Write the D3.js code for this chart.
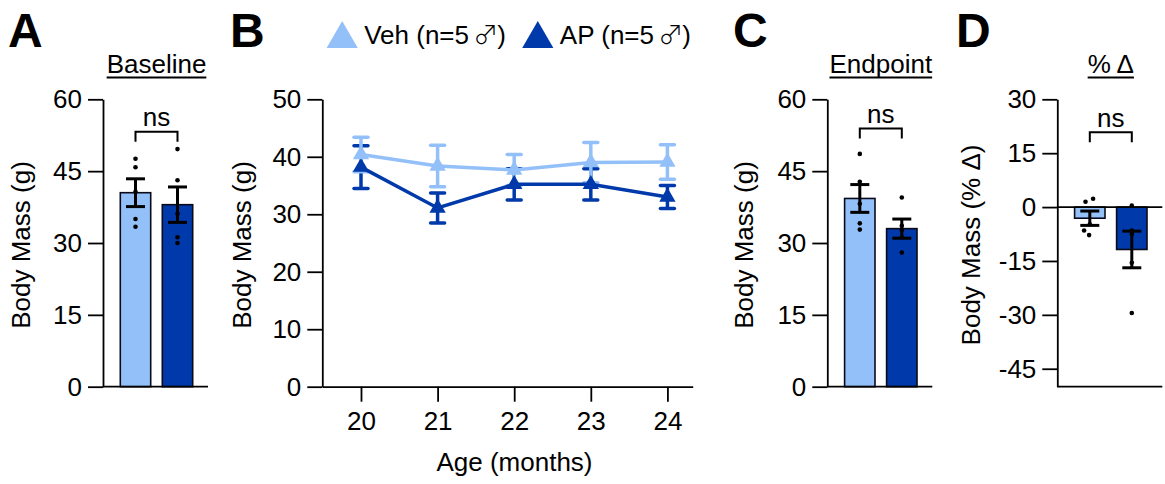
<!DOCTYPE html>
<html><head><meta charset="utf-8">
<script src="https://cdn.jsdelivr.net/npm/d3@7"></script>
<style>
body{margin:0;background:#fff}
svg text{font-family:"Liberation Sans",Arial,Helvetica,sans-serif;fill:#000}
</style>
</head><body>
<svg id="chart" width="1165" height="484"></svg>
<script>
// ---------- DATA ----------
const groups = ["Veh", "AP"];
const legendNames = ["Veh (n=5 ", "AP (n=5 "];
const legendSymbol = "\u2642";

// Panel A – Baseline body mass (g)
const baselineMean = [40.5, 38.0];
const baselineSem  = [2.9, 3.7];
const baselineVeh  = [47.6, 45.8, 40.7, 35.0, 33.4];
const baselineAP   = [49.6, 43.1, 36.1, 31.2, 30.0];
const baselineTicks = [0, 15, 30, 45, 60];

// Panel B – body mass over time (g)
const ages    = [20, 21, 22, 23, 24];
const vehMean = [40.4, 38.4, 37.7, 39.0, 39.1];
const vehSem  = [3.0, 3.6, 2.7, 3.5, 3.0];
const apMean  = [38.2, 31.1, 35.2, 35.2, 33.0];
const apSem   = [3.7, 2.6, 2.7, 2.7, 2.0];
const timeTicks = [0, 10, 20, 30, 40, 50];

// Panel C – Endpoint body mass (g)
const endpointMean = [39.3, 33.0];
const endpointSem  = [2.9, 2.0];
const endpointVeh  = [48.6, 42.8, 38.2, 34.1, 32.8];
const endpointAP   = [39.5, 33.6, 32.7, 31.2, 28.0];

// Panel D – % change
const pctMean = [-3.1, -11.8];
const pctSem  = [2.0, 5.1];
const pctVeh  = [1.5, 2.3, -4.8, -6.5, -7.8];
const pctAP   = [0.4, -6.5, -7.5, -15.5, -29.5];
const pctTicks = [-45, -30, -15, 0, 15, 30];

// ---------- STYLE ----------
const colors = ["#93c0f8", "#0039aa"];
const FS = 26;
const yTop = 99.3, yBot = 386.7;
const axisW = 1.8;

const svg = d3.select("#chart");

function panelLetter(txt, x) {
  svg.append("text").attr("x", x).attr("y", 47)
    .attr("font-size", 48).attr("font-weight", "bold").text(txt);
}

function yLabel(txt, x) {
  svg.append("text")
    .attr("transform", `translate(${x},${(yTop + yBot) / 2 + 2}) rotate(-90)`)
    .attr("text-anchor", "middle").attr("font-size", FS).text(txt);
}

function styleAxis(g) {
  g.selectAll("path.domain").attr("stroke", "#000").attr("stroke-width", axisW);
  g.selectAll(".tick line").attr("stroke", "#000").attr("stroke-width", axisW);
  g.selectAll(".tick text").attr("font-size", FS)
    .attr("font-family", '"Liberation Sans",Arial,sans-serif').attr("fill", "#000");
}

function barPanel(cfg) {
  const y = d3.scaleLinear().domain(cfg.yDomain).range([yBot, yTop]);
  const x = d3.scalePoint().domain(groups).range([cfg.axisX + 32.5, cfg.axisX + 74.5]);
  const barW = 30.4;
  const g = svg.append("g");

  g.selectAll("rect.bar").data(groups).join("rect")
    .attr("x", d => x(d) - barW / 2)
    .attr("y", (d, i) => y(Math.max(0, cfg.mean[i])))
    .attr("width", barW)
    .attr("height", (d, i) => Math.abs(y(cfg.mean[i]) - y(0)))
    .attr("fill", (d, i) => colors[i])
    .attr("stroke", "#0a0a1a").attr("stroke-width", 1.6);

  groups.forEach((grp, i) => {
    const jit = cfg.jitter ? cfg.jitter[i] : null;
    g.selectAll(null).data(cfg.points[i]).join("circle")
      .attr("cx", (d, k) => x(grp) + (jit ? jit[k] : 0))
      .attr("cy", d => y(d)).attr("r", 2.3).attr("fill", "#000");
  });

  groups.forEach((grp, i) => {
    const m = cfg.mean[i], s = cfg.sem[i], cx = x(grp);
    g.append("line").attr("x1", cx).attr("x2", cx)
      .attr("y1", y(m - s)).attr("y2", y(m + s))
      .attr("stroke", "#000").attr("stroke-width", 3);
    [m - s, m + s].forEach(v => {
      g.append("line").attr("x1", cx - 9.5).attr("x2", cx + 9.5)
        .attr("y1", y(v)).attr("y2", y(v))
        .attr("stroke", "#000").attr("stroke-width", 3);
    });
  });

  if (cfg.yDomain[0] < 0) {
    g.append("line").attr("x1", cfg.axisX).attr("x2", cfg.axisX + 105)
      .attr("y1", y(0)).attr("y2", y(0))
      .attr("stroke", "#000").attr("stroke-width", axisW);
  }
  g.append("line").attr("x1", cfg.axisX).attr("x2", cfg.axisX + 105)
    .attr("y1", yBot).attr("y2", yBot)
    .attr("stroke", "#000").attr("stroke-width", axisW);

  const ax = g.append("g").attr("transform", `translate(${cfg.axisX},0)`)
    .call(d3.axisLeft(y).tickValues(cfg.ticks).tickSize(15).tickSizeOuter(0)
      .tickPadding(6).tickFormat(d => String(d)));
  styleAxis(ax);

  const cxm = (x(groups[0]) + x(groups[1])) / 2;
  const t = g.append("text").attr("x", cxm).attr("y", 73)
    .attr("text-anchor", "middle").attr("font-size", FS).text(cfg.title);
  const tw = t.node().getComputedTextLength();
  g.append("line").attr("x1", cxm - tw / 2).attr("x2", cxm + tw / 2)
    .attr("y1", 77.5).attr("y2", 77.5).attr("stroke", "#000").attr("stroke-width", 1.8);

  const by = cfg.bracketY;
  g.append("path")
    .attr("d", `M${x(groups[0])},${by + 10}V${by}H${x(groups[1])}V${by + 10}`)
    .attr("fill", "none").attr("stroke", "#000").attr("stroke-width", 2);
  g.append("text").attr("x", cxm).attr("y", by - 5.5)
    .attr("text-anchor", "middle").attr("font-size", FS).text("ns");

  yLabel(cfg.ylabel, cfg.labelX);
}

// ---------- Panel A ----------
panelLetter("A", 8);
barPanel({
  axisX: 103, yDomain: [0, 60], ticks: baselineTicks,
  mean: baselineMean, sem: baselineSem, points: [baselineVeh, baselineAP],
  title: "Baseline", ylabel: "Body Mass (g)", labelX: 30, bracketY: 131.7
});

// ---------- Panel B ----------
panelLetter("B", 230);
(function () {
  const axisX = 322.3;
  const x = d3.scaleLinear().domain([19.495, 24.33]).range([axisX, 692.7]);
  const y = d3.scaleLinear().domain([0, 50]).range([yBot, yTop]);
  const g = svg.append("g");

  const ax = g.append("g").attr("transform", `translate(${axisX},0)`)
    .call(d3.axisLeft(y).tickValues(timeTicks).tickSize(15).tickSizeOuter(0).tickPadding(6));
  styleAxis(ax);
  const bx = g.append("g").attr("transform", `translate(0,${yBot})`)
    .call(d3.axisBottom(x).tickValues(ages).tickSize(15).tickSizeOuter(0).tickPadding(10)
      .tickFormat(d => String(d)));
  styleAxis(bx);

  const series = [
    { mean: vehMean, sem: vehSem, color: colors[0] },
    { mean: apMean, sem: apSem, color: colors[1] }
  ];
  const order = [1, 0];
  order.forEach(si => {
    const s = series[si];
    ages.forEach((a, i) => {
      const cx = x(a), lo = s.mean[i] - s.sem[i], hi = s.mean[i] + s.sem[i];
      g.append("line").attr("x1", cx).attr("x2", cx).attr("y1", y(lo)).attr("y2", y(hi))
        .attr("stroke", s.color).attr("stroke-width", 3.5);
      [lo, hi].forEach(v => g.append("line").attr("x1", cx - 7).attr("x2", cx + 7)
        .attr("y1", y(v)).attr("y2", y(v)).attr("stroke", s.color)
        .attr("stroke-width", 3.5).attr("stroke-linecap", "round"));
    });
  });
  order.forEach(si => {
    const s = series[si];
    g.append("path").datum(s.mean)
      .attr("d", d3.line().x((d, i) => x(ages[i])).y(d => y(d)))
      .attr("fill", "none").attr("stroke", s.color).attr("stroke-width", 3.5);
    g.selectAll(null).data(s.mean).join("path")
      .attr("transform", (d, i) => `translate(${x(ages[i])},${y(d)})`)
      .attr("d", d3.symbol(d3.symbolTriangle, 115)())
      .attr("fill", s.color);
  });

  svg.append("text").attr("x", (axisX + 692.7) / 2 + 7).attr("y", 471)
    .attr("text-anchor", "middle").attr("font-size", FS).text("Age (months)");
  yLabel("Body Mass (g)", 251);

  const legX = [342.2, 537.8];
  legendNames.forEach((lab, i) => {
    svg.append("path").attr("transform", `translate(${legX[i]},39)`)
      .attr("d", d3.symbol(d3.symbolTriangle, 421)()).attr("fill", colors[i]);
    const t = svg.append("text").attr("x", legX[i] + 22).attr("y", 44)
      .attr("font-size", FS);
    t.append("tspan").text(lab);
    t.append("tspan").attr("font-family", '"Noto Sans CJK JP","Noto Sans CJK SC",sans-serif')
      .attr("font-size", 25).attr("font-weight", 300).attr("dx", -3).text(legendSymbol);
    t.append("tspan").attr("dx", -1).text(")");
  });
})();

// ---------- Panel C ----------
panelLetter("C", 733);
barPanel({
  axisX: 827.3, yDomain: [0, 60], ticks: baselineTicks,
  mean: endpointMean, sem: endpointSem, points: [endpointVeh, endpointAP],
  title: "Endpoint", ylabel: "Body Mass (g)", labelX: 752.5, bracketY: 128.5
});

// ---------- Panel D ----------
panelLetter("D", 956);
barPanel({
  axisX: 1057.3, yDomain: [-50, 30], ticks: pctTicks,
  mean: pctMean, sem: pctSem, points: [pctVeh, pctAP],
  jitter: [[-4.3, 3.3, 0, -5.7, -0.7], [0, 0, 0, 0, 0]],
  title: "% \u0394", ylabel: "Body Mass (% \u0394)", labelX: 980, bracketY: 132.3
});
</script>
</body></html>
